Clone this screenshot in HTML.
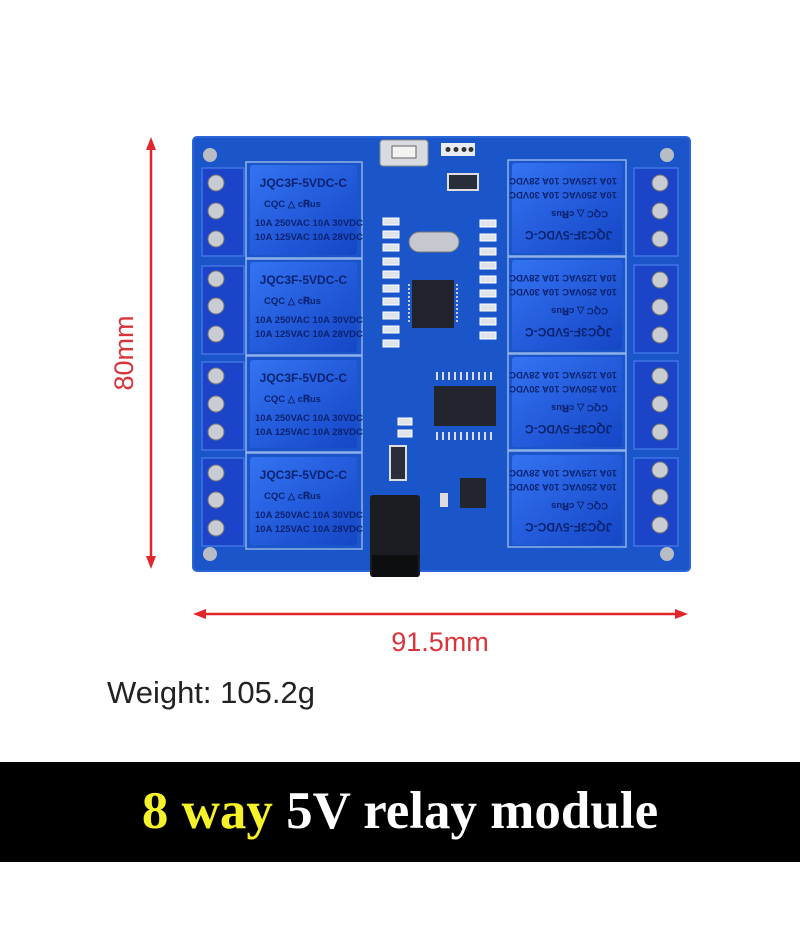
<!DOCTYPE html>
<html><head><meta charset="utf-8"><style>
body{margin:0;background:#fff;width:800px;height:930px;overflow:hidden;position:relative;font-family:"Liberation Sans",sans-serif}
svg{position:absolute;left:0;top:0}
</style></head><body>
<svg width="800" height="930" viewBox="0 0 800 930" xmlns="http://www.w3.org/2000/svg">
<defs>
<linearGradient id="rl" x1="0" y1="0" x2="1" y2="1"><stop offset="0" stop-color="#3373f2"/><stop offset="1" stop-color="#1546c6"/></linearGradient>
</defs>
<rect x="193" y="137" width="497" height="434" rx="4" fill="#1a56c9"/>
<rect x="193" y="137" width="497" height="434" rx="4" fill="none" stroke="#2a66d8" stroke-width="2"/>
<circle cx="210" cy="155" r="7" fill="#b8bcc4"/><circle cx="667" cy="155" r="7" fill="#b8bcc4"/>
<circle cx="210" cy="554" r="7" fill="#b8bcc4"/><circle cx="667" cy="554" r="7" fill="#b8bcc4"/>
<g fill="none" stroke="#8fb0e8" stroke-width="1.5">
<rect x="246" y="162" width="116" height="96"/><rect x="246" y="259" width="116" height="96"/>
<rect x="246" y="356" width="116" height="96"/><rect x="246" y="453" width="116" height="96"/>
<rect x="508" y="160" width="118" height="96"/><rect x="508" y="257" width="118" height="96"/>
<rect x="508" y="354" width="118" height="96"/><rect x="508" y="451" width="118" height="96"/>
</g>
<g fill="#1c44c8" stroke="#3f74e6" stroke-width="1.5">
<rect x="202" y="168" width="42" height="88"/><rect x="202" y="266" width="42" height="88"/>
<rect x="202" y="362" width="42" height="88"/><rect x="202" y="458" width="42" height="88"/>
<rect x="634" y="168" width="44" height="88"/><rect x="634" y="265" width="44" height="88"/>
<rect x="634" y="361" width="44" height="88"/><rect x="634" y="458" width="44" height="88"/>
</g>
<g fill="#c9ccd2" stroke="#777" stroke-width="1">
<circle cx="216" cy="183" r="8"/><circle cx="216" cy="211" r="8"/><circle cx="216" cy="239" r="8"/>
<circle cx="216" cy="279" r="8"/><circle cx="216" cy="306" r="8"/><circle cx="216" cy="334" r="8"/>
<circle cx="216" cy="376" r="8"/><circle cx="216" cy="404" r="8"/><circle cx="216" cy="432" r="8"/>
<circle cx="216" cy="473" r="8"/><circle cx="216" cy="500" r="8"/><circle cx="216" cy="528" r="8"/>
<circle cx="660" cy="183" r="8"/><circle cx="660" cy="211" r="8"/><circle cx="660" cy="239" r="8"/>
<circle cx="660" cy="280" r="8"/><circle cx="660" cy="307" r="8"/><circle cx="660" cy="335" r="8"/>
<circle cx="660" cy="376" r="8"/><circle cx="660" cy="404" r="8"/><circle cx="660" cy="432" r="8"/>
<circle cx="660" cy="470" r="8"/><circle cx="660" cy="497" r="8"/><circle cx="660" cy="525" r="8"/>
</g>
<g fill="url(#rl)">
<rect x="250" y="165" width="107" height="90" rx="3"/><rect x="250" y="262" width="107" height="90" rx="3"/>
<rect x="250" y="360" width="107" height="88" rx="3"/><rect x="250" y="457" width="107" height="88" rx="3"/>
<rect x="512" y="163" width="110" height="90" rx="3"/><rect x="512" y="260" width="110" height="90" rx="3"/>
<rect x="512" y="357" width="110" height="90" rx="3"/><rect x="512" y="455" width="110" height="90" rx="3"/>
</g>
<g font-family="Liberation Sans Narrow, Liberation Sans, sans-serif" fill="#0b2370" font-size="9.5" font-weight="bold">
<g transform="translate(250,165)"><text x="97" y="22" text-anchor="end" font-size="12">JQC3F-5VDC-C</text><text x="14" y="42">CQC  △  c𝐑us</text><text x="5" y="61">10A 250VAC 10A 30VDC</text><text x="5" y="75">10A 125VAC 10A 28VDC</text></g>
<g transform="translate(250,262)"><text x="97" y="22" text-anchor="end" font-size="12">JQC3F-5VDC-C</text><text x="14" y="42">CQC  △  c𝐑us</text><text x="5" y="61">10A 250VAC 10A 30VDC</text><text x="5" y="75">10A 125VAC 10A 28VDC</text></g>
<g transform="translate(250,360)"><text x="97" y="22" text-anchor="end" font-size="12">JQC3F-5VDC-C</text><text x="14" y="42">CQC  △  c𝐑us</text><text x="5" y="61">10A 250VAC 10A 30VDC</text><text x="5" y="75">10A 125VAC 10A 28VDC</text></g>
<g transform="translate(250,457)"><text x="97" y="22" text-anchor="end" font-size="12">JQC3F-5VDC-C</text><text x="14" y="42">CQC  △  c𝐑us</text><text x="5" y="61">10A 250VAC 10A 30VDC</text><text x="5" y="75">10A 125VAC 10A 28VDC</text></g>
<g transform="translate(622,253) rotate(180)"><text x="97" y="22" text-anchor="end" font-size="12">JQC3F-5VDC-C</text><text x="14" y="42">CQC  △  c𝐑us</text><text x="5" y="61">10A 250VAC 10A 30VDC</text><text x="5" y="75">10A 125VAC 10A 28VDC</text></g>
<g transform="translate(622,350) rotate(180)"><text x="97" y="22" text-anchor="end" font-size="12">JQC3F-5VDC-C</text><text x="14" y="42">CQC  △  c𝐑us</text><text x="5" y="61">10A 250VAC 10A 30VDC</text><text x="5" y="75">10A 125VAC 10A 28VDC</text></g>
<g transform="translate(622,447) rotate(180)"><text x="97" y="22" text-anchor="end" font-size="12">JQC3F-5VDC-C</text><text x="14" y="42">CQC  △  c𝐑us</text><text x="5" y="61">10A 250VAC 10A 30VDC</text><text x="5" y="75">10A 125VAC 10A 28VDC</text></g>
<g transform="translate(622,545) rotate(180)"><text x="97" y="22" text-anchor="end" font-size="12">JQC3F-5VDC-C</text><text x="14" y="42">CQC  △  c𝐑us</text><text x="5" y="61">10A 250VAC 10A 30VDC</text><text x="5" y="75">10A 125VAC 10A 28VDC</text></g>
</g>
<rect x="380" y="140" width="48" height="26" rx="3" fill="#d8dbe0" stroke="#888"/>
<rect x="392" y="146" width="24" height="12" fill="#f2f2f2" stroke="#666"/>
<rect x="441" y="143" width="34" height="13" fill="#e8ecf2"/>
<g fill="#333"><circle cx="448" cy="149.5" r="2.5"/><circle cx="456" cy="149.5" r="2.5"/><circle cx="464" cy="149.5" r="2.5"/><circle cx="471" cy="149.5" r="2.5"/></g>
<rect x="448" y="174" width="30" height="16" fill="#2a2e3a" stroke="#ddd" stroke-width="2"/>
<rect x="409" y="232" width="50" height="20" rx="10" fill="#c5c8cf" stroke="#777"/>
<g fill="#dfe3ea" stroke="#fff" stroke-width="1">
<rect x="383" y="218" width="16" height="7"/><rect x="383" y="231" width="16" height="7"/><rect x="383" y="244" width="16" height="7"/>
<rect x="383" y="258" width="16" height="7"/><rect x="383" y="271" width="16" height="7"/><rect x="383" y="285" width="16" height="7"/>
<rect x="383" y="298" width="16" height="7"/><rect x="383" y="312" width="16" height="7"/><rect x="383" y="326" width="16" height="7"/><rect x="383" y="340" width="16" height="7"/>
<rect x="480" y="220" width="16" height="7"/><rect x="480" y="234" width="16" height="7"/><rect x="480" y="248" width="16" height="7"/>
<rect x="480" y="262" width="16" height="7"/><rect x="480" y="276" width="16" height="7"/><rect x="480" y="290" width="16" height="7"/>
<rect x="480" y="304" width="16" height="7"/><rect x="480" y="318" width="16" height="7"/><rect x="480" y="332" width="16" height="7"/>
<rect x="398" y="418" width="14" height="7"/><rect x="398" y="430" width="14" height="7"/>
</g>
<rect x="412" y="280" width="42" height="48" fill="#20232c"/>
<g stroke="#ccc" stroke-width="2"><line x1="409" y1="284" x2="409" y2="324" stroke-dasharray="2 2"/><line x1="457" y1="284" x2="457" y2="324" stroke-dasharray="2 2"/></g>
<rect x="434" y="386" width="62" height="40" fill="#22252e"/>
<g stroke="#ddd" stroke-width="2" stroke-dasharray="2 4"><line x1="436" y1="376" x2="496" y2="376" stroke-width="8"/><line x1="436" y1="436" x2="496" y2="436" stroke-width="8"/></g>
<rect x="460" y="478" width="26" height="30" fill="#22252e"/>
<rect x="390" y="446" width="16" height="34" fill="#2a2e3a" stroke="#ddd" stroke-width="2"/>
<rect x="440" y="493" width="8" height="14" fill="#ddd"/>
<rect x="370" y="495" width="50" height="82" rx="3" fill="#1b1d22"/>
<rect x="372" y="555" width="46" height="22" fill="#0d0e10"/>
<g stroke="#e0262a" stroke-width="2.5" fill="#e0262a">
<line x1="151" y1="144" x2="151" y2="562"/>
<polygon points="151,137 146,150 156,150" stroke="none"/><polygon points="151,569 146,556 156,556" stroke="none"/>
<line x1="200" y1="614" x2="681" y2="614"/>
<polygon points="193,614 206,609 206,619" stroke="none"/><polygon points="688,614 675,609 675,619" stroke="none"/>
</g>
<text x="0" y="0" transform="translate(133,353) rotate(-90)" text-anchor="middle" font-family="Liberation Sans, sans-serif" font-size="27" fill="#d8343a">80mm</text>
<text x="440" y="651" text-anchor="middle" font-family="Liberation Sans, sans-serif" font-size="27" fill="#d8343a">91.5mm</text>
<text x="107" y="703" font-family="Liberation Sans, sans-serif" font-size="31" fill="#222">Weight: 105.2g</text>
<rect x="0" y="762" width="800" height="100" fill="#000"/>
<text x="400" y="828" text-anchor="middle" font-family="Liberation Serif, serif" font-weight="bold" font-size="53" fill="#fff"><tspan fill="#f6f22a">8 way</tspan> 5V relay module</text>
</svg>
</body></html>
